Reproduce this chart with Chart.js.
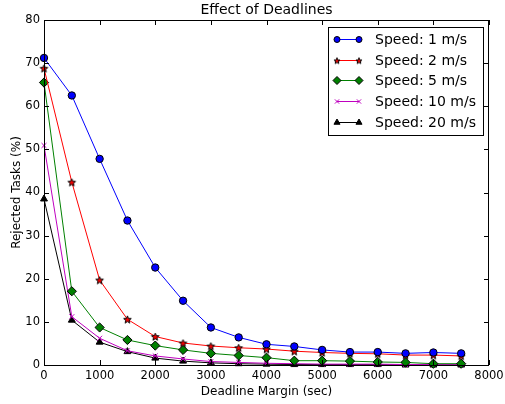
<!DOCTYPE html>
<html>
<head>
<meta charset="utf-8">
<script src="https://cdn.jsdelivr.net/npm/chart.js@4"></script>
<style>
    html, body { margin: 0; padding: 0; background: #fff; }
    #wrap { width: 505px; height: 404px; }
</style>
</head>
<body>
<div id="wrap"><canvas id="chart" width="505" height="404"></canvas></div>
<script>
// Data
const margins = [0, 500, 1000, 1500, 2000, 2500, 3000, 3500, 4000, 4500, 5000, 5500, 6000, 6500, 7000, 7500];
const speed1 = [71.2, 62.5, 47.8, 33.5, 22.6, 14.9, 8.7, 6.4, 4.8, 4.3, 3.5, 3.0, 3.0, 2.7, 2.9, 2.7];
const speed2 = [68.8, 42.4, 19.7, 10.6, 6.6, 5.1, 4.4, 4.0, 3.7, 3.2, 2.9, 2.7, 2.6, 2.3, 2.3, 2.1];
const speed5 = [65.5, 17.1, 8.7, 5.8, 4.5, 3.5, 2.7, 2.2, 1.7, 1.0, 1.0, 0.9, 0.7, 0.6, 0.3, 0.3];
const speed10 = [50.9, 11.2, 6.2, 3.3, 2.1, 1.4, 0.8, 0.6, 0.4, 0.3, 0.2, 0.2, 0.2, 0.1, 0.1, 0.1];
const speed20 = [38.5, 10.4, 5.3, 3.1, 1.6, 0.9, 0.5, 0.3, 0.2, 0.1, 0.1, 0.1, 0.1, 0.0, 0.0, 0.0];
const seriesNames = ['Speed: 1 m/s', 'Speed: 2 m/s', 'Speed: 5 m/s', 'Speed: 10 m/s', 'Speed: 20 m/s'];
const xTicks = [0, 1000, 2000, 3000, 4000, 5000, 6000, 7000, 8000];
const yTicks = [0, 10, 20, 30, 40, 50, 60, 70, 80];

const FONT = 'DejaVu Sans, sans-serif';

// filled star marker like matplotlib '*'
function makeStar(r, fill) {
    const c = document.createElement('canvas');
    const s = Math.ceil(r * 2 + 3);
    c.width = s; c.height = s;
    const g = c.getContext('2d');
    g.translate(s / 2, s / 2 + 0.5);
    g.beginPath();
    for (let i = 0; i < 10; i++) {
        const rad = i % 2 === 0 ? r : r * 0.42;
        const a = -Math.PI / 2 + i * Math.PI / 5;
        g.lineTo(rad * Math.cos(a), rad * Math.sin(a));
    }
    g.closePath();
    g.fillStyle = fill;
    g.fill();
    g.lineWidth = 1;
    g.strokeStyle = '#000';
    g.stroke();
    return c;
}

function pts(ys) {
    return margins.map((x, i) => ({ x: x, y: ys[i] }));
}

const styles = [
    { color: '#0000ff', point: 'circle', radius: 3.7, fill: '#0000ff', edge: '#000', legPoint: 'circle', legR: 3 },
    { color: '#ff0000', point: makeStar(4, '#ff0000'), radius: 4, fill: '#ff0000', edge: '#000', legPoint: makeStar(3.2, '#ff0000'), legR: 3 },
    { color: '#008000', point: 'rectRot', radius: 4.6, fill: '#008000', edge: '#000', legPoint: 'rectRot', legR: 4 },
    { color: '#bf00bf', point: 'crossRot', radius: 3.5, fill: '#bf00bf', edge: '#bf00bf', legPoint: 'crossRot', legR: 3 },
    { color: '#000000', point: 'triangle', radius: 4, fill: '#000', edge: '#000', legPoint: 'triangle', legR: 3.5 }
];
const values = [speed1, speed2, speed5, speed10, speed20];

const datasets = values.map((v, i) => ({
    label: seriesNames[i],
    data: pts(v),
    borderColor: styles[i].color,
    borderWidth: 1,
    pointStyle: styles[i].point,
    pointRadius: styles[i].radius,
    pointBackgroundColor: styles[i].fill,
    pointBorderColor: styles[i].edge,
    pointBorderWidth: 1,
    showLine: true,
    fill: false,
    tension: 0,
    clip: false
}));

// frame, inward ticks and legend inside the axes, matplotlib style
const mplFrame = {
    id: 'mplFrame',
    afterDatasetsDraw(chart) {
        const ctx = chart.ctx;
        const a = chart.chartArea;
        const xs = chart.scales.x, ys = chart.scales.y;
        ctx.save();
        ctx.strokeStyle = '#000';
        ctx.lineWidth = 1;
        ctx.strokeRect(a.left + 0.5, a.top + 0.5, a.right - a.left - 1, a.bottom - a.top);
        ctx.beginPath();
        xTicks.forEach(t => {
            const px = Math.round(xs.getPixelForValue(t)) + 0.5;
            ctx.moveTo(px, a.bottom); ctx.lineTo(px, a.bottom - 5);
            ctx.moveTo(px, a.top); ctx.lineTo(px, a.top + 5);
        });
        yTicks.forEach(t => {
            const py = Math.round(ys.getPixelForValue(t)) + 0.5;
            ctx.moveTo(a.left, py); ctx.lineTo(a.left + 5, py);
            ctx.moveTo(a.right, py); ctx.lineTo(a.right - 5, py);
        });
        ctx.stroke();

        // legend box
        const bx = 328, by = 27, bw = 155, bh = 108;
        ctx.fillStyle = '#fff';
        ctx.fillRect(bx, by, bw, bh);
        ctx.strokeRect(bx + 0.5, by + 0.5, bw, bh);
        ctx.font = '14px ' + FONT;
        ctx.textBaseline = 'middle';
        chart.data.datasets.forEach((ds, i) => {
            const y = Math.round(39 + i * 20.7) + 0.5;
            ctx.strokeStyle = ds.borderColor;
            ctx.lineWidth = 1;
            ctx.beginPath();
            ctx.moveTo(337, y); ctx.lineTo(359, y);
            ctx.stroke();
            [337, 359].forEach(px => {
                ctx.fillStyle = ds.pointBackgroundColor;
                ctx.strokeStyle = ds.pointBorderColor;
                ctx.lineWidth = 1;
                Chart.helpers.drawPoint(ctx, {
                    pointStyle: styles[i].legPoint,
                    radius: styles[i].legR,
                    borderWidth: 1,
                    rotation: 0
                }, px, y);
            });
            ctx.fillStyle = '#000';
            ctx.fillText(ds.label, 375, y + 1);
        });
        ctx.restore();
    }
};

new Chart(document.getElementById('chart'), {
    type: 'line',
    data: { datasets: datasets },
    plugins: [mplFrame],
    options: {
        responsive: false,
        animation: false,
        layout: { padding: { left: 0, right: 16, top: 0, bottom: 0 } },
        plugins: {
            legend: { display: false },
            tooltip: { enabled: false },
            title: {
                display: true,
                fullSize: false,
                text: 'Effect of Deadlines',
                color: '#000',
                font: { family: FONT, size: 14, weight: 'normal', lineHeight: 1 },
                padding: { top: 3, bottom: 3 }
            }
        },
        scales: {
            x: {
                type: 'linear',
                min: 0, max: 8000,
                grid: { display: false, drawTicks: false },
                border: { display: false },
                afterBuildTicks: s => { s.ticks = xTicks.map(v => ({ value: v })); },
                ticks: {
                    color: '#000', padding: 4, maxRotation: 0,
                    font: { family: FONT, size: 11.5 },
                    callback: v => String(v)
                },
                title: {
                    display: true, text: 'Deadline Margin (sec)', color: '#000',
                    font: { family: FONT, size: 12 }, padding: { top: 5, bottom: 5 }
                },
                afterFit: s => { s.height = 39; s.paddingLeft = 0; s.paddingRight = 0; }
            },
            y: {
                min: 0, max: 80,
                grid: { display: false, drawTicks: false },
                border: { display: false },
                afterBuildTicks: s => { s.ticks = yTicks.map(v => ({ value: v })); },
                ticks: {
                    color: '#000', padding: 4,
                    font: { family: FONT, size: 11.5 },
                    callback: v => String(v)
                },
                title: {
                    display: true, text: 'Rejected Tasks (%)', color: '#000',
                    font: { family: FONT, size: 12 }, padding: { top: 10, bottom: 10 }
                },
                afterFit: s => { s.width = 44; s.paddingTop = 0; s.paddingBottom = 0; }
            }
        }
    }
});
</script>
</body>
</html>
